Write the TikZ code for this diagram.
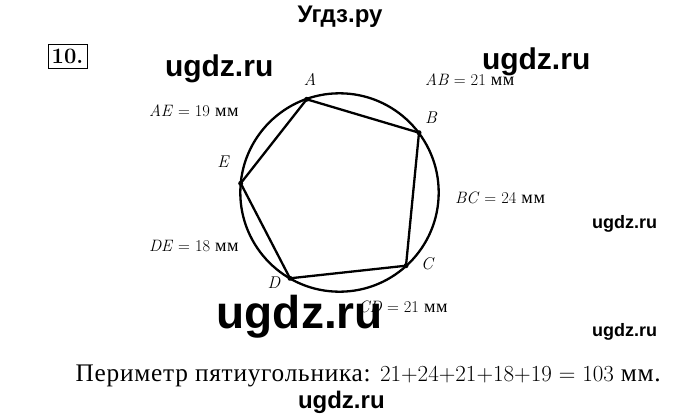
\documentclass[tikz,border=0pt]{standalone}
\usepackage{fontspec}
\newfontfamily\cyr{Liberation Serif}[Scale=1.1,LetterSpace=3]
\newfontfamily\wmfont{Liberation Sans}
\tikzset{
  lbl/.style={inner sep=0pt, outer sep=0pt, anchor=base west, font=\fontsize{16.5}{19}\selectfont},
  vlbl/.style={inner sep=0pt, outer sep=0pt, font=\fontsize{17}{19}\selectfont\itshape},
  wm/.style={inner sep=0pt, outer sep=0pt, anchor=base west, text=black},
  thickline/.style={line width=2.3pt, line join=round},
  pt/.style={fill=black, circle, inner sep=0pt, minimum size=5pt}
}
\begin{document}
\begin{tikzpicture}[x=1pt,y=-1pt]
\useasboundingbox[fill=white] (0,0) rectangle (680,418);
% problem number
\node[draw, line width=0.9pt, minimum width=39pt, minimum height=24pt, inner sep=0pt] (num) at (67.5,56) {\fontsize{22}{24}\selectfont\bfseries 10.};
% circle and pentagon
\coordinate (O) at (339.5,192.5);
\draw[thickline] (O) circle[radius=99.2pt];
\coordinate (A) at (306.7,99.3);
\coordinate (B) at (419,132.7);
\coordinate (C) at (406,265.7);
\coordinate (D) at (290,278.3);
\coordinate (E) at (240.7,183.3);
\draw[thickline] (A) -- (B) -- (C) -- (D) -- (E) -- cycle;
\foreach \p in {A,B,C,D,E} \node[pt] (p\p) at (\p) {};
% vertex labels
\node[vlbl] (lA) at (310,79) {A};
\node[vlbl] (lB) at (431,118) {B};
\node[vlbl] (lC) at (427,264) {C};
\node[vlbl] (lD) at (274,283) {D};
\node[vlbl] (lE) at (223,162) {E};
% side labels
\node[lbl] (tAB) at (425,85) {\textit{AB} = 21 {\cyr мм}};
\node[lbl] (tAE) at (149,116.7) {\textit{AE} = 19 {\cyr мм}};
\node[lbl] (tBC) at (455,203.3) {\textit{BC} = 24 {\cyr мм}};
\node[lbl] (tDE) at (149,251) {\textit{DE} = 18 {\cyr мм}};
\node[lbl] (tCD) at (358,312.3) {\textit{CD} = 21 {\cyr мм}};
% perimeter
\node[inner sep=0pt, anchor=base east, font=\fontsize{23}{26}\selectfont] (per) at (661,381) {{\cyr Периметр пятиугольника:} 21+24+21+18+19 = 103 {\cyr мм.}};
% watermarks
\node[inner sep=0pt, anchor=base, font=\wmfont\bfseries\fontsize{24}{26}\selectfont] (w0) at (340,22) {Угдз.ру};
\node[wm, font=\wmfont\bfseries\fontsize{30}{32}\selectfont] (w1) at (165,76.5) {ugdz.ru};
\node[wm, font=\wmfont\bfseries\fontsize{30}{32}\selectfont] (w2) at (482,69) {ugdz.ru};
\node[wm, font=\wmfont\bfseries\fontsize{18}{20}\selectfont] (w3) at (592,228.3) {ugdz.ru};
\node[wm, font=\wmfont\bfseries\fontsize{46}{48}\selectfont] (w4) at (216.7,328) {ugdz.ru};
\node[wm, font=\wmfont\bfseries\fontsize{18}{20}\selectfont] (w5) at (592,336.7) {ugdz.ru};
\node[wm, font=\wmfont\bfseries\fontsize{24}{26}\selectfont] (w6) at (298,408.3) {ugdz.ru};
\end{tikzpicture}
\end{document}
